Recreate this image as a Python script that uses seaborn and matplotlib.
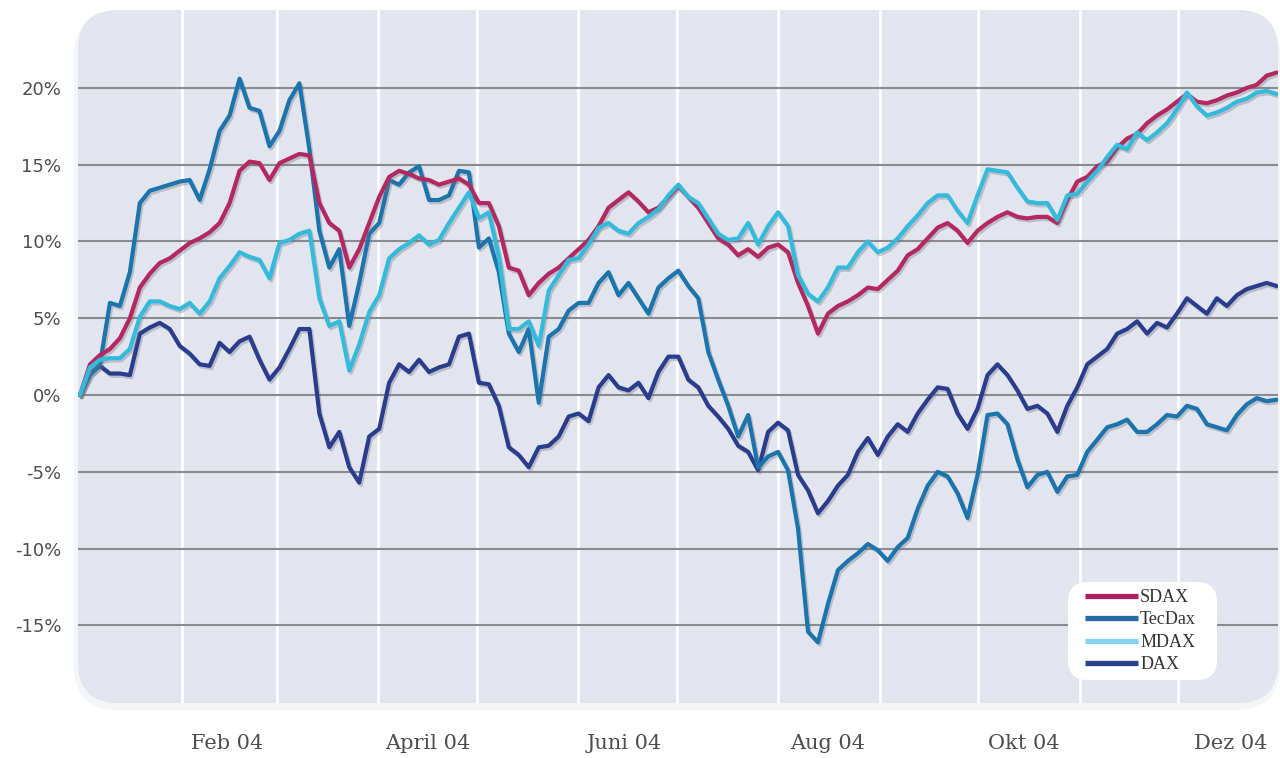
import matplotlib
matplotlib.use("Agg")
import matplotlib.pyplot as plt
import matplotlib.dates as mdates
import matplotlib.patheffects as pe
from matplotlib.lines import Line2D
from matplotlib.patches import FancyBboxPatch
import pandas as pd
import seaborn as sns

# Sampling dates across 2004 (one point roughly every three days)
dates = pd.date_range("2004-01-01", "2004-12-31", periods=121)

# Performance since start of year, in percent
sdax = [0, 2.0, 2.6, 3.0, 3.7, 5.0, 7.0, 7.9, 8.6, 8.9, 9.4, 9.9, 10.2, 10.6, 11.2, 12.5, 14.6, 15.2, 15.1, 14.0,
        15.1, 15.4, 15.7, 15.6, 12.5, 11.2, 10.7, 8.3, 9.5, 11.2, 12.9, 14.2, 14.6, 14.4, 14.1, 14.0, 13.7, 13.9, 14.1, 13.7,
        12.5, 12.5, 11.0, 8.3, 8.1, 6.5, 7.3, 7.9, 8.3, 8.9, 9.5, 10.1, 11.0, 12.2, 12.7, 13.2, 12.6, 11.9, 12.2, 12.9,
        13.6, 12.9, 12.2, 11.2, 10.2, 9.8, 9.1, 9.5, 9.0, 9.6, 9.8, 9.3, 7.3, 5.8, 4.0, 5.3, 5.8, 6.1, 6.5, 7.0,
        6.9, 7.5, 8.1, 9.1, 9.5, 10.2, 10.9, 11.2, 10.7, 9.9, 10.7, 11.2, 11.6, 11.9, 11.6, 11.5, 11.6, 11.6, 11.2, 12.7,
        13.9, 14.2, 14.9, 15.2, 16.1, 16.7, 17.0, 17.7, 18.2, 18.6, 19.1, 19.6, 19.1, 19.0, 19.2, 19.5, 19.7, 20.0, 20.2, 20.8, 21.0]

tecdax = [0, 1.3, 2.0, 6.0, 5.8, 8.0, 12.5, 13.3, 13.5, 13.7, 13.9, 14.0, 12.7, 14.7, 17.2, 18.2, 20.6, 18.7, 18.5, 16.2,
          17.2, 19.2, 20.3, 16.0, 10.7, 8.3, 9.5, 4.5, 7.3, 10.5, 11.2, 14.0, 13.7, 14.5, 14.9, 12.7, 12.7, 13.0, 14.6, 14.5,
          9.6, 10.2, 8.0, 4.0, 2.8, 4.3, -0.5, 3.8, 4.3, 5.5, 6.0, 6.0, 7.3, 8.0, 6.5, 7.3, 6.3, 5.3, 7.0, 7.6,
          8.1, 7.1, 6.3, 2.8, 1.0, -0.7, -2.7, -1.3, -4.7, -4.0, -3.7, -4.9, -8.7, -15.4, -16.1, -13.6, -11.4, -10.8, -10.3, -9.7,
          -10.1, -10.8, -9.9, -9.3, -7.4, -5.9, -5.0, -5.3, -6.4, -8.0, -5.2, -1.3, -1.2, -1.9, -4.2, -6.0, -5.2, -5.0, -6.3, -5.3,
          -5.2, -3.7, -2.9, -2.1, -1.9, -1.6, -2.4, -2.4, -1.9, -1.3, -1.4, -0.7, -0.9, -1.9, -2.1, -2.3, -1.3, -0.6, -0.2, -0.4, -0.3]

mdax = [0, 1.8, 2.3, 2.4, 2.4, 3.0, 5.1, 6.1, 6.1, 5.8, 5.6, 6.0, 5.3, 6.1, 7.6, 8.4, 9.3, 9.0, 8.8, 7.6,
        9.9, 10.1, 10.5, 10.7, 6.3, 4.5, 4.8, 1.6, 3.3, 5.4, 6.5, 8.9, 9.5, 9.9, 10.4, 9.8, 10.1, 11.2, 12.2, 13.2,
        11.5, 11.9, 9.0, 4.3, 4.3, 4.8, 3.2, 6.8, 7.8, 8.8, 8.9, 9.8, 10.9, 11.2, 10.7, 10.5, 11.2, 11.6, 12.1, 13.0,
        13.7, 12.9, 12.5, 11.5, 10.5, 10.1, 10.2, 11.2, 9.8, 11.0, 11.9, 11.0, 7.8, 6.6, 6.1, 7.0, 8.3, 8.3, 9.3, 10.0,
        9.3, 9.6, 10.2, 11.0, 11.7, 12.5, 13.0, 13.0, 12.0, 11.2, 13.0, 14.7, 14.6, 14.5, 13.5, 12.6, 12.5, 12.5, 11.4, 13.0,
        13.1, 13.9, 14.6, 15.5, 16.3, 16.0, 17.1, 16.6, 17.1, 17.7, 18.6, 19.7, 18.8, 18.2, 18.4, 18.7, 19.1, 19.3, 19.7, 19.8, 19.6]

dax = [0, 1.4, 1.9, 1.4, 1.4, 1.3, 4.0, 4.4, 4.7, 4.3, 3.2, 2.7, 2.0, 1.9, 3.4, 2.8, 3.5, 3.8, 2.3, 1.0,
       1.8, 3.0, 4.3, 4.3, -1.2, -3.4, -2.4, -4.7, -5.7, -2.7, -2.2, 0.8, 2.0, 1.5, 2.3, 1.5, 1.8, 2.0, 3.8, 4.0,
       0.8, 0.7, -0.7, -3.4, -3.9, -4.7, -3.4, -3.3, -2.7, -1.4, -1.2, -1.7, 0.5, 1.3, 0.5, 0.3, 0.8, -0.2, 1.5, 2.5,
       2.5, 1.0, 0.5, -0.7, -1.4, -2.2, -3.3, -3.7, -4.9, -2.4, -1.8, -2.3, -5.2, -6.2, -7.7, -6.9, -5.9, -5.2, -3.7, -2.8,
       -3.9, -2.7, -1.9, -2.4, -1.2, -0.3, 0.5, 0.4, -1.2, -2.2, -0.9, 1.3, 2.0, 1.3, 0.3, -0.9, -0.7, -1.2, -2.4, -0.7,
       0.5, 2.0, 2.5, 3.0, 4.0, 4.3, 4.8, 4.0, 4.7, 4.4, 5.3, 6.3, 5.8, 5.3, 6.3, 5.8, 6.5, 6.9, 7.1, 7.3, 7.1]

legend_order = ["SDAX", "TecDax", "MDAX", "DAX"]
draw_order = ["DAX", "TecDax", "SDAX", "MDAX"]

line_colors = {"SDAX": "#b3285f", "TecDax": "#1c74ad", "MDAX": "#34bbdb", "DAX": "#2a3d8d"}
legend_colors = {"SDAX": "#ac1f5e", "TecDax": "#2a69a8", "MDAX": "#7fd4f4", "DAX": "#29418e"}

y_ticks = [-15, -10, -5, 0, 5, 10, 15, 20]
y_tick_labels = ["-15%", "-10%", "-5%", "0%", "5%", "10%", "15%", "20%"]
x_tick_dates = ["2004-02-15", "2004-04-16", "2004-06-15", "2004-08-16", "2004-10-15", "2004-12-17"]
x_tick_labels = ["Feb 04", "April 04", "Juni 04", "Aug 04", "Okt 04", "Dez 04"]
month_starts = pd.date_range("2004-02-01", "2004-12-01", freq="MS")

sns.set_theme(style="white")
plt.rcParams["font.family"] = ["DejaVu Sans"]

W, H = 1280, 758
fig = plt.figure(figsize=(W / 100, H / 100), dpi=100)
fig.patch.set_facecolor("white")

# Rounded panel behind the plot, with a faint soft edge below it
shadow = FancyBboxPatch((0.74, 0.48), 12.06, 6.98, boxstyle="round,pad=0,rounding_size=0.44",
                        transform=fig.dpi_scale_trans, facecolor="#f4f5f7", edgecolor="none", zorder=0)
panel = FancyBboxPatch((0.78, 0.55), 12.00, 6.93, boxstyle="round,pad=0,rounding_size=0.40",
                       transform=fig.dpi_scale_trans, facecolor="#e3e5ee", edgecolor="none", zorder=0)
fig.add_artist(shadow)
fig.add_artist(panel)

ax = fig.add_axes([78 / W, 55 / H, 1200 / W, 693 / H])
ax.set_facecolor("none")
ax.set_zorder(2)

df = pd.DataFrame({"date": dates, "SDAX": sdax, "TecDax": tecdax, "MDAX": mdax, "DAX": dax})
long_df = df.melt(id_vars="date", var_name="Index", value_name="Change")

sns.lineplot(data=long_df, x="date", y="Change", hue="Index", hue_order=draw_order,
             palette=line_colors, linewidth=3.0, legend=False, ax=ax)

for line in ax.lines:
    line.set_solid_joinstyle("round")
    line.set_path_effects([pe.SimpleLineShadow(offset=(1.2, -1.6), shadow_color="#6e7080", alpha=0.35),
                           pe.Normal()])

d0 = mdates.date2num(pd.Timestamp("2004-01-01"))
ax.set_xlim(d0 - 0.61, d0 + 365.39)
ax.set_ylim(-20.05, 25.07)

ax.set_yticks(y_ticks)
ax.set_yticklabels(y_tick_labels)
ax.set_xticks(mdates.date2num(pd.to_datetime(x_tick_dates)))
ax.set_xticklabels(x_tick_labels)
ax.set_xticks(mdates.date2num(month_starts), minor=True)

ax.grid(False)
ax.grid(axis="y", which="major", color="#8a8b90", linewidth=1.5)
ax.grid(axis="x", which="minor", color="white", linewidth=2.0)
ax.set_axisbelow(True)
for s in ax.spines.values():
    s.set_visible(False)

ax.tick_params(axis="both", which="both", length=0)
ax.tick_params(axis="y", pad=12, labelsize=13, labelcolor="#4d4d4d")
ax.tick_params(axis="x", pad=22, labelsize=15, labelcolor="#4d4d4d")
for lbl in ax.get_xticklabels():
    lbl.set_family("DejaVu Serif")
ax.set_xlabel("")
ax.set_ylabel("")

# Legend box
legend_box = FancyBboxPatch((10.68, 0.78), 1.49, 0.98, boxstyle="round,pad=0,rounding_size=0.2",
                            transform=fig.dpi_scale_trans, facecolor="white", edgecolor="none", zorder=3)
fig.add_artist(legend_box)
handles = [Line2D([0], [0], color=legend_colors[n], linewidth=3.8, solid_capstyle="butt") for n in legend_order]
leg = fig.legend(handles, legend_order, loc="upper left", bbox_to_anchor=(1085 / W, (H - 589) / H),
                 bbox_transform=fig.transFigure, frameon=False, borderpad=0, borderaxespad=0,
                 handlelength=2.93, handletextpad=0.12, labelspacing=0.30,
                 prop={"family": "Liberation Serif", "size": 13})
leg.set_zorder(4)
for t in leg.get_texts():
    t.set_color("#333333")

fig.savefig("out.png", dpi=100, facecolor="white")
